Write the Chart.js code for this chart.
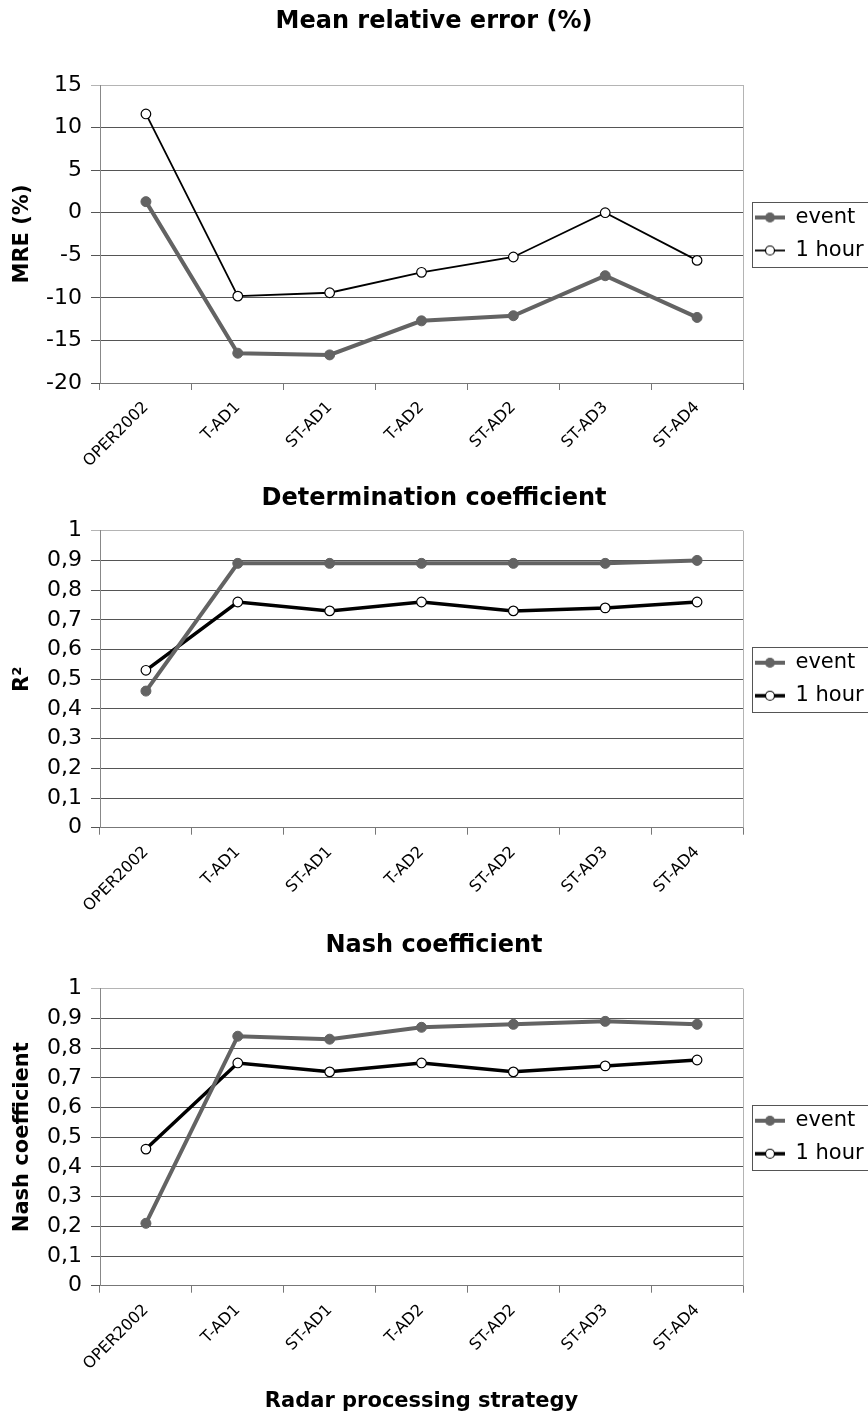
<!DOCTYPE html>
<html>
<head>
<meta charset="utf-8">
<script src="https://cdn.jsdelivr.net/npm/chart.js@4.4.1/dist/chart.umd.min.js"></script>
<style>
body{margin:0;background:#fff;}
#wrap{position:relative;width:868px;height:1417px;overflow:hidden;background:#fff;}
#wrap canvas{position:absolute;left:0;}
</style>
</head>
<body>
<div id="wrap">
	<canvas id="mreChart" width="868" height="470" style="top:0px"></canvas>
	<canvas id="r2Chart" width="868" height="445" style="top:470px"></canvas>
	<canvas id="nashChart" width="868" height="502" style="top:915px"></canvas>
</div>
<script>
	/* data */
	var categories = ["OPER2002", "T-AD1", "ST-AD1", "T-AD2", "ST-AD2", "ST-AD3", "ST-AD4"];
	var seriesNames = ["event", "1 hour"];

	var mreEvent = [1.3, -16.5, -16.7, -12.7, -12.1, -7.4, -12.3];
	var mreHour = [11.6, -9.8, -9.4, -7.0, -5.2, 0, -5.6];

	var r2Event = [0.46, 0.89, 0.89, 0.89, 0.89, 0.89, 0.90];
	var r2Hour = [0.53, 0.76, 0.73, 0.76, 0.73, 0.74, 0.76];

	var nashEvent = [0.21, 0.84, 0.83, 0.87, 0.88, 0.89, 0.88];
	var nashHour = [0.46, 0.75, 0.72, 0.75, 0.72, 0.74, 0.76];

	Chart.defaults.font.family = "'DejaVu Sans', Arial, sans-serif";
	Chart.defaults.color = "#000";

	var EVENT_GREY = "#636363";

	// small line + marker picture used as legend symbol
	function swatch(lineColor, lineW, fill, stroke){
		var c = document.createElement("canvas");
		c.width = 30; c.height = 14;
		var g = c.getContext("2d");
		g.strokeStyle = lineColor; g.lineWidth = lineW;
		g.beginPath(); g.moveTo(0, 7); g.lineTo(30, 7); g.stroke();
		g.beginPath(); g.arc(15, 7, 4.5, 0, Math.PI * 2);
		g.fillStyle = fill; g.fill();
		g.lineWidth = 1.2; g.strokeStyle = stroke; g.stroke();
		return c;
	}

	// right border of the plot and the box round the legend
	var framePlugin = {
		id: "frame",
		beforeDatasetsDraw: function(chart){
			var a = chart.chartArea, g = chart.ctx;
			g.save();
			g.strokeStyle = "#b4b4b4"; g.lineWidth = 1;
			g.beginPath(); g.moveTo(a.right + 0.5, a.top); g.lineTo(a.right + 0.5, a.bottom); g.stroke();
			g.restore();
		},
		afterDraw: function(chart){
			var hb = chart.legend.legendHitBoxes, g = chart.ctx;
			if(!hb || !hb.length) return;
			var top = hb[0].top - 5;
			var last = hb[hb.length - 1];
			var bottom = last.top + last.height + 6;
			g.save();
			g.strokeStyle = "#555"; g.lineWidth = 1;
			g.strokeRect(Math.round(hb[0].left - 3) + 0.5, Math.round(top) + 0.5, 200, Math.round(bottom - top));
			g.restore();
		}
	};

	function commaFormat(v){
		return (Math.round(v * 10) / 10).toString().replace(".", ",");
	}

	/* builds one panel */
	function makeChart(id, cfg){
		var hourWidth = cfg.hourWidth;
		var symbols = [
			swatch(EVENT_GREY, 4, EVENT_GREY, EVENT_GREY),
			swatch("#000", hourWidth, "#fff", "#000")
		];

		return new Chart(document.getElementById(id), {
			type: "line",
			data: {
				labels: categories,
				datasets: [{
					label: seriesNames[0],
					data: cfg.event,
					borderColor: EVENT_GREY,
					backgroundColor: EVENT_GREY,
					borderWidth: 4,
					pointRadius: 5,
					pointBackgroundColor: EVENT_GREY,
					pointBorderColor: EVENT_GREY,
					pointBorderWidth: 1,
					tension: 0,
					fill: false
				}, {
					label: seriesNames[1],
					data: cfg.hour,
					borderColor: "#000",
					backgroundColor: "#fff",
					borderWidth: hourWidth,
					pointRadius: 4.8,
					pointBackgroundColor: "#fff",
					pointBorderColor: "#000",
					pointBorderWidth: 1.2,
					tension: 0,
					fill: false
				}]
			},
			options: {
				responsive: false,
				animation: false,
				layout: { padding: 0 },
				plugins: {
					tooltip: { enabled: false },
					title: {
						display: true,
						text: cfg.title,
						font: { size: 24, weight: "bold" },
						color: "#000",
						padding: { top: cfg.titleTop, bottom: cfg.titleBottom }
					},
					legend: {
						position: "right",
						fullSize: false,
						maxWidth: 125,
						labels: {
							usePointStyle: true,
							pointStyleWidth: 30,
							padding: 12,
							color: "#000",
							font: { size: 21 },
							generateLabels: function(chart){
								var items = Chart.defaults.plugins.legend.labels.generateLabels(chart);
								items.forEach(function(it, i){ it.pointStyle = symbols[i]; });
								return items;
							}
						}
					}
				},
				scales: {
					x: {
						offset: true,
						grid: { offset: true, drawOnChartArea: false, tickLength: 7, color: "#777" },
						border: { color: "#777" },
						ticks: { minRotation: 45, maxRotation: 45, autoSkip: false, padding: 8, font: { size: 16 }, color: "#000" },
						title: {
							display: !!cfg.xTitle,
							text: cfg.xTitle || "",
							font: { size: 21, weight: "bold" },
							color: "#000",
							padding: { top: 0, bottom: 2.4 }
						},
						afterFit: function(s){ s.height = cfg.xHeight; }
					},
					y: {
						min: cfg.min,
						max: cfg.max,
						grid: {
							color: function(c){ return (c.tick && c.tick.value === cfg.max) ? "#b4b4b4" : "#555"; },
							tickLength: 9
						},
						border: { color: "#888" },
						ticks: {
							stepSize: cfg.step,
							padding: 9,
							font: { size: 22 },
							color: "#000",
							callback: cfg.comma ? commaFormat : undefined
						},
						title: {
							display: true,
							text: cfg.yTitle,
							font: { size: 21, weight: "bold" },
							color: "#000",
							padding: { top: 10.4, bottom: 0 }
						},
						afterFit: function(s){ s.width = 100; }
					}
				}
			},
			plugins: [framePlugin]
		});
	}

	makeChart("mreChart", {
		title: "Mean relative error (%)", titleTop: 7.6, titleBottom: 48.6,
		yTitle: "MRE (%)", min: -20, max: 15, step: 5, comma: false,
		event: mreEvent, hour: mreHour, hourWidth: 1.8, xHeight: 87
	});

	makeChart("r2Chart", {
		title: "Determination coefficient", titleTop: 14.6, titleBottom: 17.3,
		yTitle: "R²", min: 0, max: 1, step: 0.1, comma: true,
		event: r2Event, hour: r2Hour, hourWidth: 3.5, xHeight: 87.3
	});

	makeChart("nashChart", {
		title: "Nash coefficient", titleTop: 16.6, titleBottom: 28.3,
		yTitle: "Nash coefficient", min: 0, max: 1, step: 0.1, comma: true,
		event: nashEvent, hour: nashHour, hourWidth: 3.5, xHeight: 131.3,
		xTitle: "Radar processing strategy"
	});
</script>
</body>
</html>
